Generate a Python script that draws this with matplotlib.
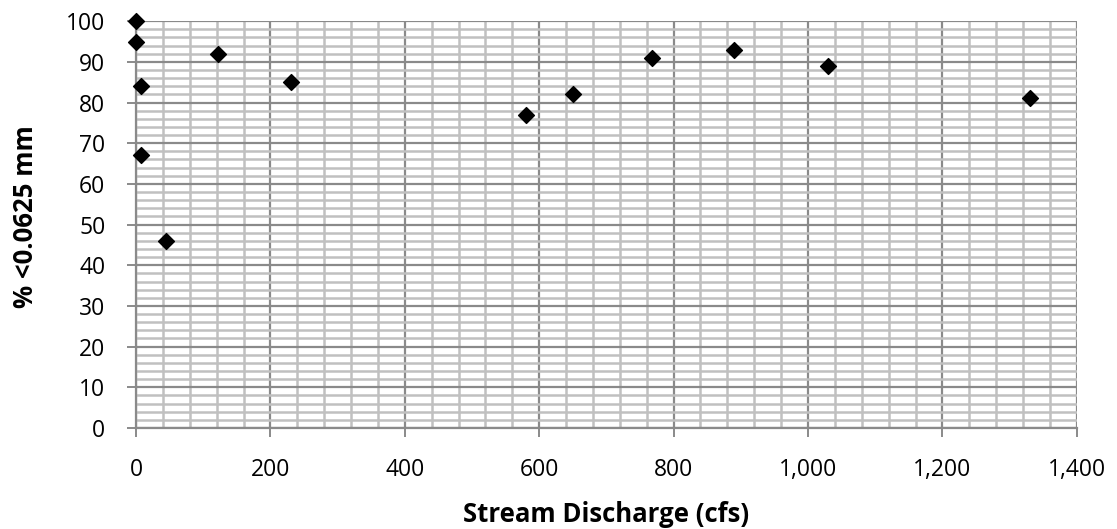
import matplotlib
matplotlib.use("Agg")
import matplotlib.pyplot as plt
from matplotlib.ticker import MultipleLocator, FuncFormatter

discharge = [0, 0, 8, 7, 45, 122, 230, 580, 650, 768, 890, 1030, 1330]
pct_fine = [100, 95, 84, 67, 46, 92, 85, 77, 82, 91, 93, 89, 81]

plt.rcParams['font.family'] = ['Open Sans', 'DejaVu Sans']

fig = plt.figure(figsize=(11.17, 5.29), dpi=100)
ax = fig.add_axes([0.1218, 0.191, 0.8422, 0.769])

ax.set_xlim(0, 1400)
ax.set_ylim(0, 100)
ax.xaxis.set_major_locator(MultipleLocator(200))
ax.xaxis.set_minor_locator(MultipleLocator(40))
ax.yaxis.set_major_locator(MultipleLocator(10))
ax.yaxis.set_minor_locator(MultipleLocator(2))
ax.xaxis.set_major_formatter(FuncFormatter(lambda v, p: f"{int(v):,}"))

ax.grid(which='minor', color='#c0c0c0', linewidth=1.8)
ax.grid(which='major', color='#8a8a8a', linewidth=1.6)
ax.set_axisbelow(True)

for s in ['top', 'right']:
    ax.spines[s].set_visible(False)
for s in ['left', 'bottom']:
    ax.spines[s].set_color('#8a8a8a')
    ax.spines[s].set_linewidth(1.6)

ax.tick_params(which='major', direction='out', length=6.5, color='#8a8a8a', width=1.4,
               labelsize=16.5, labelcolor='#000000')
ax.tick_params(axis='y', which='major', pad=15.5)
ax.tick_params(axis='x', which='major', pad=15)
ax.tick_params(which='minor', length=0)

ax.scatter(discharge, pct_fine, marker='D', s=65, color='black', zorder=5, clip_on=False)

ax.set_xlabel('Stream Discharge (cfs)', fontsize=18.5, fontweight='bold', labelpad=14)
ax.set_ylabel('% <0.0625 mm', fontsize=18.5, fontweight='bold', labelpad=14)
ax.yaxis.set_label_coords(-0.103, 0.52)

fig.savefig('out.png', dpi=100)
